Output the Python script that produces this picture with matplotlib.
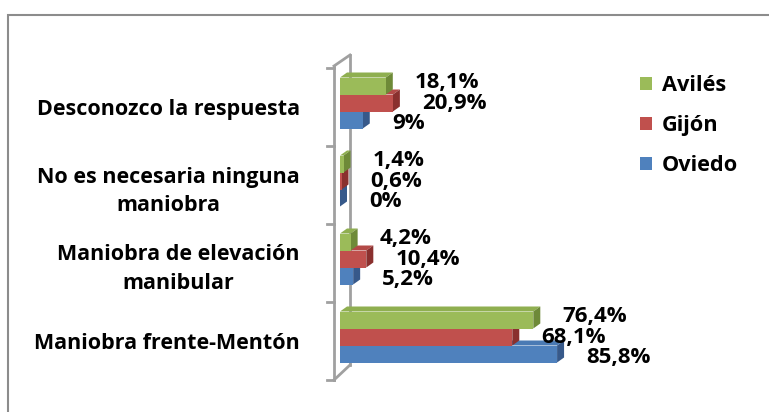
import matplotlib
matplotlib.use("Agg")
import matplotlib.pyplot as plt
from matplotlib.patches import Polygon, Rectangle, Patch

plt.rcParams["font.family"] = ["Open Sans", "DejaVu Sans"]
plt.rcParams["font.weight"] = "bold"

# --------------------------------------------------------------------
# Data (bottom group first)
# --------------------------------------------------------------------
categories = ["Maniobra frente-Mentón",
              "Maniobra de elevación\nmanibular",
              "No es necesaria ninguna\nmaniobra",
              "Desconozco la respuesta"]
oviedo = [85.8, 5.2, 0, 9]
gijon = [68.1, 10.4, 0.6, 20.9]
aviles = [76.4, 4.2, 1.4, 18.1]

# (name, values, front, top, side) drawn bottom bar first
series = [
    ("Oviedo", oviedo, "#4F81BD", "#4A7AB4", "#37598A"),
    ("Gijón", gijon, "#C0504D", "#B34A47", "#8A302E"),
    ("Avilés", aviles, "#9BBB59", "#8FAF50", "#6E8A38"),
]

W, H = 769, 412
fig = plt.figure(figsize=(W / 100, H / 100), dpi=100)

# front plane of the plot: 0% at x=340px, 2.53 px per %, groups 78 px tall
AX_L, AX_W, AX_B, AX_H = 340, 253, 412 - 380, 312
ax = fig.add_axes([AX_L / W, AX_B / H, AX_W / W, AX_H / H])
ax.set_xlim(0, 100)
ax.set_ylim(-0.5, 3.5)
for s in ax.spines.values():
    s.set_visible(False)
ax.set_xticks([])

ux = 100 / AX_W          # data units per pixel (x)
uy = 4 / AX_H            # data units per pixel (y)

bar_h = 17 * uy
shift = 4 * uy
dx, dy = 7 * ux, 5 * uy

# 3D wall lines
wall = "#a0a0a0"
fx, bx = -6 * ux, 10 * ux
ax.plot([fx, fx], [-0.5, 3.5 + 2 * uy], color=wall, lw=2, zorder=1, clip_on=False)
ax.plot([bx, bx], [-0.5 + 15 * uy, 3.5 + 13 * uy], color=wall, lw=2, zorder=1, clip_on=False)
ax.plot([fx, bx], [3.5 + 2 * uy, 3.5 + 13 * uy], color=wall, lw=2, zorder=1, clip_on=False)
ax.plot([fx, bx], [-0.5, -0.5 + 15 * uy], color=wall, lw=2, zorder=1, clip_on=False)
for yb in [-0.5, 0.5, 1.5, 2.5, 3.5]:
    ax.plot([fx - 7 * ux, fx], [yb, yb], color=wall, lw=2, zorder=1, clip_on=False)

# bars with top and side faces
for k, (name, vals, front, top, side) in enumerate(series):
    for i, v in enumerate(vals):
        yc = i + shift + (k - 1) * bar_h
        y0, y1 = yc - bar_h / 2, yc + bar_h / 2
        z = 2 + k
        ax.add_patch(Polygon([(0, y1), (v, y1), (v + dx, y1 + dy), (dx, y1 + dy)],
                             closed=True, fc=top, ec="none", zorder=z, clip_on=False))
        ax.add_patch(Polygon([(v, y0), (v + dx, y0 + dy), (v + dx, y1 + dy), (v, y1)],
                             closed=True, fc=side, ec="none", zorder=z, clip_on=False))
        ax.barh(yc, v, height=bar_h, left=0, color=front, zorder=z)
        txt = f"{v:g}".replace(".", ",") + "%"
        # labels fan out a little so they don't collide
        ax.annotate(txt, (v, yc), xytext=(21, (k - 1) * 2.2), textcoords="offset points",
                    ha="left", va="center", fontsize=16, fontweight="bold",
                    zorder=10, annotation_clip=False)

ax.set_yticks(range(len(categories)))
ax.set_yticklabels(categories, fontsize=15.5, fontweight="bold")
ax.tick_params(axis="y", length=0, pad=29)
for lbl in ax.get_yticklabels():
    lbl.set_multialignment("center")
    lbl.set_linespacing(1.45)

handles = [Patch(fc=s[2], ec="none") for s in series[::-1]]
fig.legend(handles, [s[0] for s in series[::-1]], loc="upper left",
           bbox_to_anchor=(640 / W, 1 - 75 / H), frameon=False,
           prop={"size": 15.7, "weight": "bold"}, handlelength=0.55,
           handleheight=0.55, handletextpad=0.45, labelspacing=0.88,
           borderaxespad=0, borderpad=0)

# chart border (runs off the right and bottom edges)
fig.add_artist(Rectangle((8 / W, -0.1), 1.2, (H - 15) / H + 0.1,
                         transform=fig.transFigure, fill=False,
                         ec="#8c8c8c", lw=1.5))

fig.savefig("out.png", dpi=100, facecolor="white")
